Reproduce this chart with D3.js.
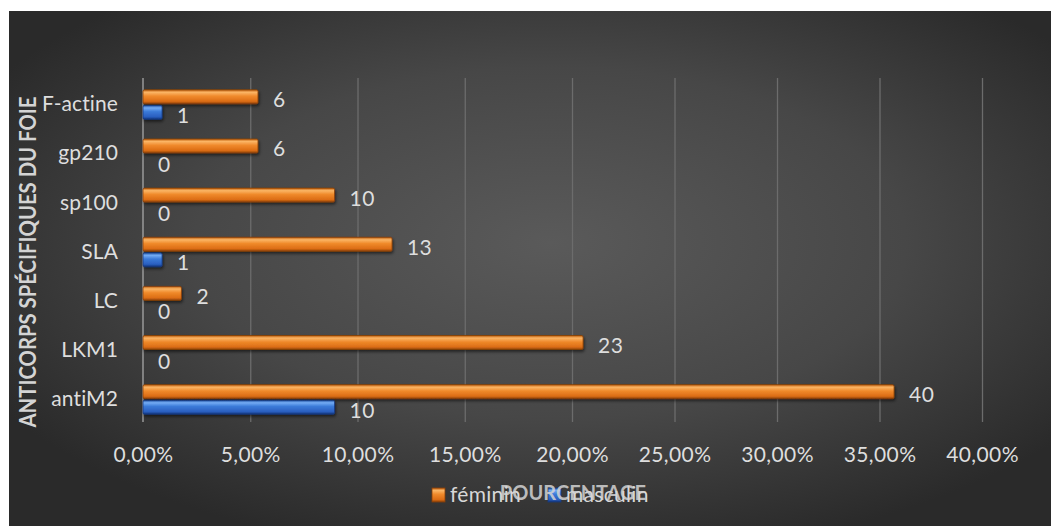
<!DOCTYPE html>
<html>
<head>
<meta charset="utf-8">
<script src="https://cdn.jsdelivr.net/npm/d3@7"></script>
<style>
  body { margin: 0; background: #fff; }
  svg { display: block; }
  text { font-family: Lato, "Open Sans", sans-serif; }
</style>
</head>
<body>
<svg id="chart" width="1051" height="526"></svg>
<script>
// chart data
let categories = ["F-actine", "gp210", "sp100", "SLA", "LC", "LKM1", "antiM2"];
let femininPct = [5.36, 5.36, 8.93, 11.61, 1.79, 20.54, 35.71];
let masculinPct = [0.89, 0, 0, 0.89, 0, 0, 8.93];
let femininLabels = [6, 6, 10, 13, 2, 23, 40];
let masculinLabels = [1, 0, 0, 1, 0, 0, 10];
let xTicks = [0, 5, 10, 15, 20, 25, 30, 35, 40];
let seriesNames = ["féminin", "masculin"];

var drawChart = function() {
  let svg = d3.select("#chart");
  let width = 1051, height = 526;

  let margin = { top: 78, right: 69, bottom: 104, left: 143 };
  let plotBottom = height - margin.bottom;

  let defs = svg.append("defs");

  // dark background, lighter in the middle
  let bg = defs.append("radialGradient").attr("id", "bgGrad")
    .attr("cx", "52%").attr("cy", "45%").attr("r", "62%");
  bg.append("stop").attr("offset", "0%").attr("stop-color", "#5a5a5a");
  bg.append("stop").attr("offset", "55%").attr("stop-color", "#474747");
  bg.append("stop").attr("offset", "100%").attr("stop-color", "#2a2a2a");

  let makeBarGrad = function(id, c0, c1, c2, c3, c4) {
    let g = defs.append("linearGradient").attr("id", id)
      .attr("x1", 0).attr("y1", 0).attr("x2", 0).attr("y2", 1);
    g.append("stop").attr("offset", "0%").attr("stop-color", c0);
    g.append("stop").attr("offset", "18%").attr("stop-color", c1);
    g.append("stop").attr("offset", "45%").attr("stop-color", c2);
    g.append("stop").attr("offset", "82%").attr("stop-color", c3);
    g.append("stop").attr("offset", "100%").attr("stop-color", c4);
  };
  makeBarGrad("gradF", "#c0600f", "#fbb565", "#f08a2b", "#dc6d15", "#8f4308");
  makeBarGrad("gradM", "#1d4c9e", "#74acf4", "#3b7ad8", "#2a5fc0", "#14357a");

  let shadow = defs.append("filter").attr("id", "shadow")
    .attr("x", "-5%").attr("y", "-30%").attr("width", "110%").attr("height", "180%");
  shadow.append("feDropShadow").attr("dx", 1).attr("dy", 2)
    .attr("stdDeviation", 1.5).attr("flood-color", "#000").attr("flood-opacity", 0.55);

  svg.append("rect").attr("width", width).attr("height", height).attr("fill", "#fff");
  svg.append("rect").attr("x", 9).attr("y", 11)
    .attr("width", width - 9).attr("height", height - 11)
    .attr("fill", "url(#bgGrad)");

  // photo is slightly skewed, so the value axis is a piecewise scale
  let x = d3.scaleLinear()
    .domain([0, 20, 40])
    .range([margin.left, 572, width - margin.right]);

  let y = d3.scaleBand()
    .domain(categories)
    .range([margin.top + 2, plotBottom + 2])
    .paddingInner(0.4)
    .paddingOuter(0.2);

  let ySub = d3.scaleBand()
    .domain(seriesNames)
    .range([0, y.bandwidth()])
    .paddingInner(0.1);

  // gridlines
  let grid = svg.append("g")
    .attr("transform", "translate(0," + plotBottom + ")")
    .call(d3.axisBottom(x).tickValues(xTicks.slice(1)).tickSize(-(plotBottom - margin.top)).tickFormat(""));
  grid.select(".domain").remove();
  grid.selectAll("line").attr("stroke", "#6c6c6c").attr("stroke-width", 1.3);

  svg.append("line")
    .attr("x1", x(0)).attr("x2", x(0))
    .attr("y1", margin.top).attr("y2", plotBottom)
    .attr("stroke", "#a8a8a8").attr("stroke-width", 1.3);

  // x axis labels
  let xGroup = svg.append("g")
    .attr("transform", "translate(0," + plotBottom + ")")
    .call(d3.axisBottom(x).tickValues(xTicks).tickSize(0).tickPadding(25)
      .tickFormat(function(d) { return d.toFixed(2).replace(".", ",") + "%"; }));
  xGroup.select(".domain").remove();
  xGroup.selectAll("text")
    .attr("fill", "#dedede").style("font-size", "21px")
    .style("letter-spacing", "0.4px").style("font-family", "Lato, sans-serif");

  // y axis labels
  let yGroup = svg.append("g")
    .attr("transform", "translate(" + margin.left + ",0)")
    .call(d3.axisLeft(y).tickSize(0).tickPadding(25));
  yGroup.select(".domain").remove();
  yGroup.selectAll("text")
    .attr("fill", "#dedede").style("font-size", "21px")
    .style("letter-spacing", "0.1px").style("font-family", "Lato, sans-serif");

  // bars
  let series = [
    { name: "féminin", values: femininPct, labels: femininLabels, fill: "url(#gradF)", stroke: "#8a4008" },
    { name: "masculin", values: masculinPct, labels: masculinLabels, fill: "url(#gradM)", stroke: "#163a80" }
  ];

  series.forEach(function(s) {
    let g = svg.append("g").attr("filter", "url(#shadow)");
    g.selectAll("rect")
      .data(s.values)
      .enter().append("rect")
      .attr("x", x(0))
      .attr("y", function(d, i) { return y(categories[i]) + ySub(s.name); })
      .attr("width", function(d) { return x(d) - x(0); })
      .attr("height", ySub.bandwidth())
      .attr("rx", 1.5)
      .attr("fill", s.fill)
      .attr("stroke", s.stroke)
      .attr("stroke-width", 0.8);

    svg.append("g").selectAll("text")
      .data(s.labels)
      .enter().append("text")
      .attr("x", function(d, i) { return x(s.values[i]) + 15; })
      .attr("y", function(d, i) { return y(categories[i]) + ySub(s.name) + ySub.bandwidth() / 2; })
      .attr("dy", "0.5em")
      .attr("fill", "#dedede")
      .style("font-size", "21px")
      .style("letter-spacing", "0.4px")
      .text(function(d) { return d; });
  });

  // axis titles
  svg.append("text")
    .attr("transform", "translate(36," + ((margin.top + plotBottom) / 2 + 12) + ") rotate(-90)")
    .attr("text-anchor", "middle")
    .attr("textLength", 331)
    .attr("lengthAdjust", "spacingAndGlyphs")
    .attr("fill", "#d4d4d4")
    .style("font-size", "22px")
    .style("font-weight", "bold")
    .text("ANTICORPS SPÉCIFIQUES DU FOIE");

  // legend (drawn before the x title, which sits on top of it in the original)
  let legendItems = [
    { name: "féminin", fill: "url(#gradF)", stroke: "#8a4008", x: 432 },
    { name: "masculin", fill: "url(#gradM)", stroke: "#163a80", x: 548 }
  ];
  let legend = svg.append("g").attr("transform", "translate(0,488)");
  legendItems.forEach(function(item) {
    legend.append("rect")
      .attr("x", item.x).attr("y", 0)
      .attr("width", 13).attr("height", 14)
      .attr("fill", item.fill).attr("stroke", item.stroke).attr("stroke-width", 0.8);
    legend.append("text")
      .attr("x", item.x + 18).attr("y", 7)
      .attr("dy", "0.35em")
      .attr("fill", "#d8d8d8")
      .style("font-size", "21px")
      .style("letter-spacing", "0.3px")
      .text(item.name);
  });

  svg.append("text")
    .attr("x", 573)
    .attr("y", 500)
    .attr("text-anchor", "middle")
    .attr("fill", "#d4d4d4")
    .attr("fill-opacity", 0.85)
    .style("font-size", "20px")
    .style("font-weight", "bold")
    .text("POURCENTAGE");
};

drawChart();
</script>
</body>
</html>
